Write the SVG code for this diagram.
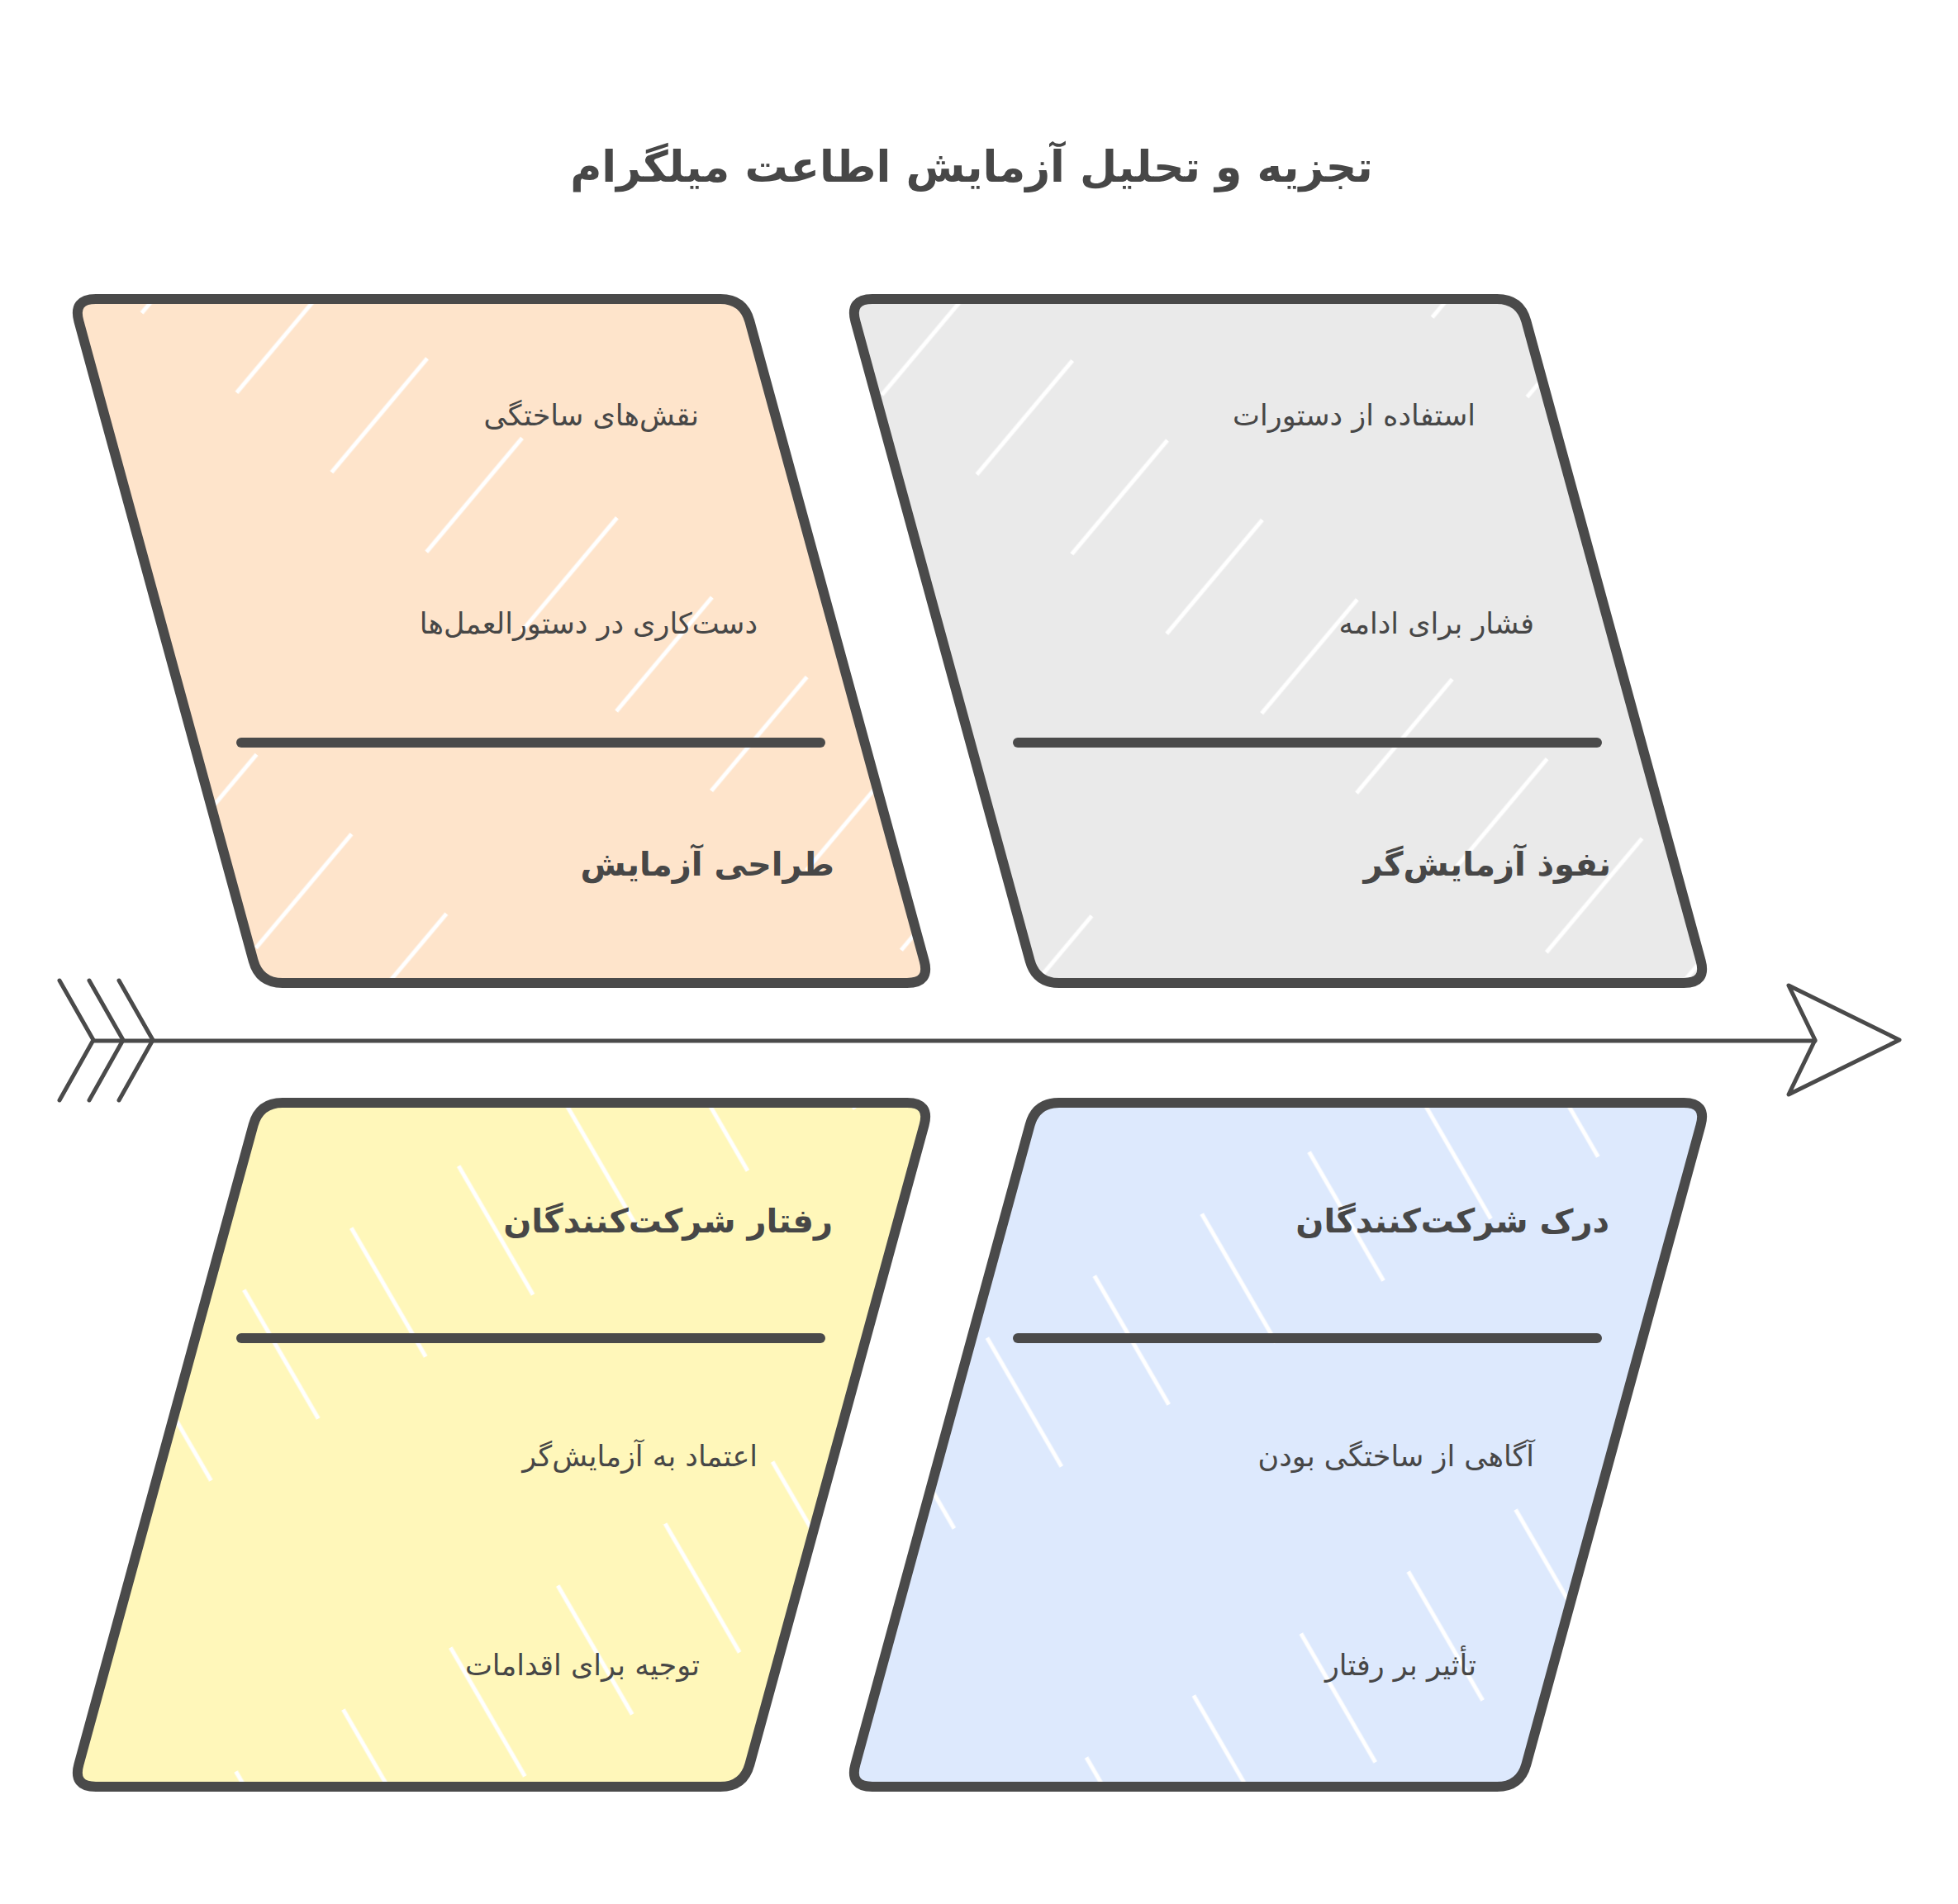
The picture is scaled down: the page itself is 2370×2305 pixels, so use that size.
<svg xmlns="http://www.w3.org/2000/svg" width="2370" height="2305" viewBox="0 0 2370 2305">
<style>
.box{stroke:#4a4a4a;stroke-width:12;stroke-linejoin:round}
.div{stroke:#4a4a4a;stroke-width:12;stroke-linecap:round;fill:none}
.t{font-family:"DejaVu Sans",sans-serif;fill:#474747;text-anchor:end}
.item{font-size:35px}
.lbl{font-size:40px;font-weight:bold}
.title{font-family:"DejaVu Sans",sans-serif;fill:#474747;font-size:52px;font-weight:bold;text-anchor:middle}
.con{stroke:#4a4a4a;stroke-width:5;stroke-linecap:round;stroke-linejoin:round;fill:none}
.gap{stroke:#ffffff;stroke-width:5;stroke-dasharray:180 320;fill:none}
</style>
<defs>
<pattern id="hOrange" patternUnits="userSpaceOnUse" width="150" height="500" patternTransform="rotate(40)">
<rect width="150" height="500" fill="#fee4cb"/><line class="gap" x1="75" y1="0" x2="75" y2="500"/>
</pattern>
<pattern id="hGray" patternUnits="userSpaceOnUse" width="150" height="500" patternTransform="rotate(40)">
<rect width="150" height="500" fill="#eaeaea"/><line class="gap" x1="75" y1="0" x2="75" y2="500"/>
</pattern>
<pattern id="hYellow" patternUnits="userSpaceOnUse" width="150" height="500" patternTransform="rotate(-30)">
<rect width="150" height="500" fill="#fff7ba"/><line class="gap" x1="75" y1="0" x2="75" y2="500"/>
</pattern>
<pattern id="hBlue" patternUnits="userSpaceOnUse" width="150" height="500" patternTransform="rotate(-30)">
<rect width="150" height="500" fill="#dde9fd"/><line class="gap" x1="75" y1="0" x2="75" y2="500"/>
</pattern>
</defs>
<rect width="2370" height="2305" fill="#ffffff"/>
<text class="title" x="1176" y="220">تجزیه و تحلیل آزمایش اطاعت میلگرام</text>
<g id="connectors">
<path class="con" d="M113,1260 L2197,1260"/>
<path class="con" d="M2165,1193 L2299,1259 L2165,1325 L2197,1259 Z"/>
<path class="con" d="M72,1187 L113,1259 L72,1332"/>
<path class="con" d="M108,1187 L149,1259 L108,1332"/>
<path class="con" d="M144,1187 L185,1259 L144,1332"/>
</g>
<g id="node-design">
<path class="box" fill="url(#hOrange)" d="M116,362 L872,362 Q900,362 907.4,389 L1118.6,1163 Q1126,1190 1098,1190 L342,1190 Q314,1190 306.6,1163 L95.4,389 Q88,362 116,362 Z"/>
<line class="div" x1="292" y1="899" x2="993" y2="899"/>
<text class="t item" x="846" y="515">نقش‌های ساختگی</text>
<text class="t item" x="917" y="767">دست‌کاری در دستورالعمل‌ها</text>
<text class="t lbl" x="1010" y="1060">طراحی آزمایش</text>
</g>
<g id="node-experimenter">
<path class="box" fill="url(#hGray)" d="M1056,362 L1812,362 Q1840,362 1847.4,389 L2058.6,1163 Q2066,1190 2038,1190 L1282,1190 Q1254,1190 1246.6,1163 L1035.4,389 Q1028,362 1056,362 Z"/>
<line class="div" x1="1232" y1="899" x2="1933" y2="899"/>
<text class="t item" x="1786" y="515">استفاده از دستورات</text>
<text class="t item" x="1857" y="767">فشار برای ادامه</text>
<text class="t lbl" x="1950" y="1060">نفوذ آزمایش‌گر</text>
</g>
<g id="node-behavior">
<path class="box" fill="url(#hYellow)" d="M342,1335 L1098,1335 Q1126,1335 1118.6,1362 L907.4,2136 Q900,2163 872,2163 L116,2163 Q88,2163 95.4,2136 L306.6,1362 Q314,1335 342,1335 Z"/>
<line class="div" x1="292" y1="1620" x2="993" y2="1620"/>
<text class="t lbl" x="1008" y="1492">رفتار شرکت‌کنندگان</text>
<text class="t item" x="917" y="1775">اعتماد به آزمایش‌گر</text>
<text class="t item" x="847" y="2028">توجیه برای اقدامات</text>
</g>
<g id="node-perception">
<path class="box" fill="url(#hBlue)" d="M1282,1335 L2038,1335 Q2066,1335 2058.6,1362 L1847.4,2136 Q1840,2163 1812,2163 L1056,2163 Q1028,2163 1035.4,2136 L1246.6,1362 Q1254,1335 1282,1335 Z"/>
<line class="div" x1="1232" y1="1620" x2="1933" y2="1620"/>
<text class="t lbl" x="1948" y="1492">درک شرکت‌کنندگان</text>
<text class="t item" x="1857" y="1775">آگاهی از ساختگی بودن</text>
<text class="t item" x="1787" y="2028">تأثیر بر رفتار</text>
</g>
</svg>
